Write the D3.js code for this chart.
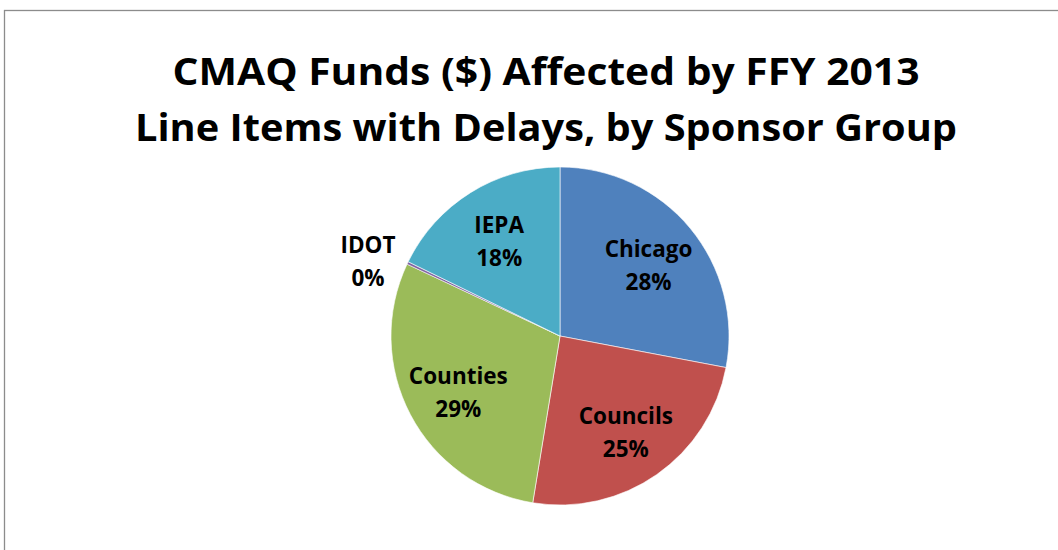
<!DOCTYPE html>
<html>
<head>
<meta charset="utf-8">
<script src="https://cdn.jsdelivr.net/npm/d3@7"></script>
<style>
body { margin: 0; background: #fff; }
text { font-family: "Open Sans", Lato, sans-serif; font-weight: bold; fill: #000; }
</style>
</head>
<body>
<div id="chart"></div>
<script>
var groups = ["Chicago", "Councils", "Counties", "IDOT", "IEPA"];
var shares = [27.99, 24.59, 29.41, 0.25, 17.76];
var colors = ["#4F81BD", "#C0504D", "#9BBB59", "#8064A2", "#4BACC6"];
var titleLines = ["CMAQ Funds ($) Affected by FFY 2013", "Line Items with Delays, by Sponsor Group"];

var w = 1058,
	h = 550,
	svg = d3.select("#chart").append("svg").attr("width", w).attr("height", h);

// chart area frame (runs off right and bottom)
svg.append("rect")
	.attr("x", 4.5).attr("y", 10.5)
	.attr("width", w + 10).attr("height", h + 10)
	.attr("fill", "#fff")
	.attr("stroke", "#8c8c8c")
	.attr("stroke-width", 1.3);

// title widths follow the original wide bold face
var titleWidths = [747, 822];
svg.selectAll("text.title").data(titleLines).enter().append("text")
	.attr("class", "title")
	.attr("x", 546)
	.attr("y", function(d, i) { return 85 + i * 56; })
	.attr("text-anchor", "middle")
	.attr("textLength", function(d, i) { return titleWidths[i]; })
	.attr("lengthAdjust", "spacingAndGlyphs")
	.style("font-size", "38px")
	.text(function(d) { return d; });

var cx = 560, cy = 336, r = 169;
var g = svg.append("g").attr("transform", `translate(${cx}, ${cy})`);

var data = groups.map(function(d, i) { return { name: d, value: shares[i], color: colors[i] }; });
var pie = d3.pie().sort(null).value(function(d) { return d.value; });
var arc = d3.arc().innerRadius(0).outerRadius(r);
var arcs = pie(data);

g.selectAll("path").data(arcs).enter().append("path")
	.attr("d", arc)
	.attr("fill", function(d) { return d.data.color; })
	.attr("stroke", "#fff")
	.attr("stroke-width", 0.6);

var inLabel = d3.arc().innerRadius(r * 0.68).outerRadius(r * 0.68);
var outLabel = d3.arc().innerRadius(r * 1.05).outerRadius(r * 1.05);
var total = d3.sum(shares);

var labels = g.selectAll("g.lbl").data(arcs).enter().append("g")
	.attr("class", "lbl")
	.attr("transform", function(d) {
		var small = d.data.value < 2;
		var p = (small ? outLabel : inLabel).centroid(d);
		if (small) p[0] -= 32;
		return `translate(${p[0]}, ${p[1]})`;
	});

labels.append("text")
	.attr("text-anchor", "middle")
	.attr("y", -6)
	.style("font-size", "22.5px")
	.text(function(d) { return d.data.name; });

labels.append("text")
	.attr("text-anchor", "middle")
	.attr("y", 27)
	.style("font-size", "22.5px")
	.text(function(d) { return Math.round(d.data.value / total * 100) + "%"; });
</script>
</body>
</html>
